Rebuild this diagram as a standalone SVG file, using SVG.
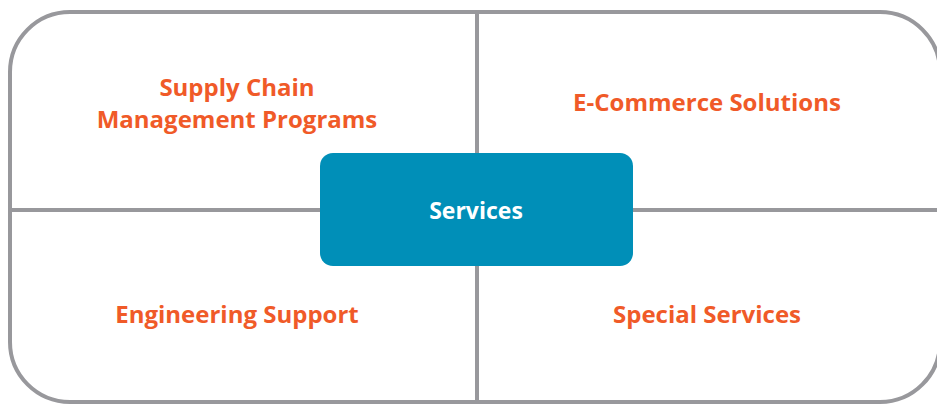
<svg xmlns="http://www.w3.org/2000/svg" width="937" height="404" viewBox="0 0 937 404">
<style>
.frame{fill:none;stroke:#98989c;stroke-width:4}
.line{stroke:#98989c;stroke-width:4;fill:none}
.lbl{font-family:"Open Sans","Noto Sans","Liberation Sans",sans-serif;font-weight:700;font-size:24px;fill:#f05a28;text-anchor:middle}
.center{fill:#008fb8}
.ctext{font-family:"Open Sans","Noto Sans","Liberation Sans",sans-serif;font-weight:700;font-size:23px;fill:#ffffff;text-anchor:middle}
</style>
<rect width="937" height="404" fill="#ffffff"/>
<rect class="frame" x="10" y="12" width="930" height="390" rx="60" ry="60"/>
<g id="connectors">
<line class="line" x1="477" y1="12" x2="477" y2="404"/>
<line class="line" x1="10" y1="210" x2="937" y2="210"/>
</g>
<g id="services">
<rect class="center" x="320" y="153" width="313" height="113" rx="13" ry="13"/>
<text class="ctext" x="476" y="219">Services</text>
</g>
<g id="supply-chain">
<text class="lbl" x="237" y="96">Supply Chain</text>
<text class="lbl" x="237" y="128">Management Programs</text>
</g>
<g id="ecommerce">
<text class="lbl" x="707" y="111">E-Commerce Solutions</text>
</g>
<g id="engineering">
<text class="lbl" x="237" y="323">Engineering Support</text>
</g>
<g id="special">
<text class="lbl" x="707" y="323">Special Services</text>
</g>
</svg>
